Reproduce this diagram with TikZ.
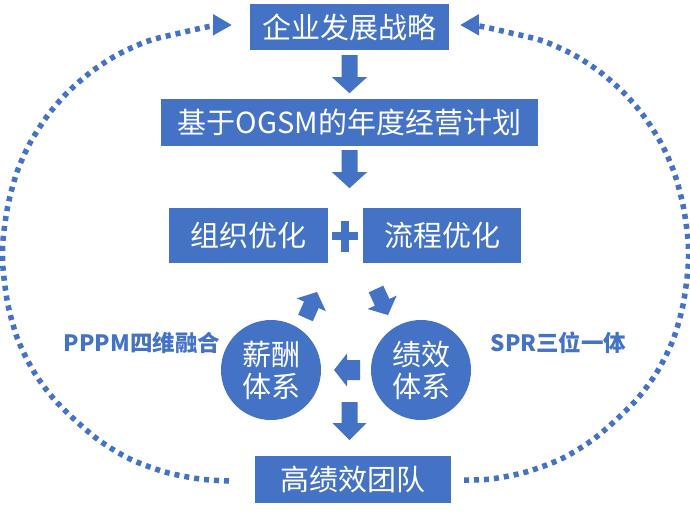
\documentclass[tikz,border=0pt]{standalone}
\usepackage{fontspec}
\setmainfont{Noto Sans CJK SC}
\usetikzlibrary{calc,arrows.meta}
\definecolor{ob}{HTML}{4472C4}
\newcommand\blockarr[5]{% tail, tip, shaft half-width, head half-width, head length
  \path ($(#2)!#5!(#1)$) coordinate (bah);
  \fill[ob] ($(#1)!#3!90:(#2)$) -- ($(bah)!#3!-90:(#1)$) -- ($(bah)!#4!-90:(#1)$) -- (#2)
    -- ($(bah)!#4!90:(#1)$) -- ($(bah)!#3!90:(#1)$) -- ($(#1)!#3!-90:(#2)$) -- cycle;
}
\tikzset{
  box/.style={fill=ob, text=white, inner sep=0pt, font=\fontsize{29}{32}\selectfont},
  circ/.style={circle, fill=ob, text=white, inner sep=0pt, minimum size=100pt, align=center,
    font=\fontsize{29}{32}\selectfont},
  lab/.style={text=ob, inner sep=0pt, font=\fontsize{22.5}{24}\selectfont\bfseries},
  dots/.style={draw=ob, line width=5.5pt, dash pattern=on 5pt off 5pt,
    -{Triangle[length=19pt 0 0,width=20pt 0 0]}},
}
\begin{document}
\begin{tikzpicture}[x=1pt,y=-1pt]
\useasboundingbox (0,0) rectangle (690,515);
% boxes
\node[box, minimum width=199pt, minimum height=46pt] (b1) at (349.5,27) {企业发展战略};
\node[box, minimum width=377pt, minimum height=47pt] (b2) at (349.5,122.5) {基于OGSM的年度经营计划};
\node[box, minimum width=159pt, minimum height=55pt] (b3) at (248.5,235.5) {组织优化};
\node[box, minimum width=158pt, minimum height=55pt] (b4) at (442,235.5) {流程优化};
\node[circ] (c1) at (271,370) {薪酬\\体系};
\node[circ] (c2) at (421,370) {绩效\\体系};
\node[box, minimum width=196pt, minimum height=47pt] (b6) at (353,479.5) {高绩效团队};
\node[lab] (l1) at (142,342.5) {PPPM四维融合};
\node[lab] (l2) at (558.5,342.5) {SPR三位一体};
% plus sign
\coordinate (plus) at (345,236);
\fill[ob] ($(plus)+(-13,-4)$) rectangle ($(plus)+(13,4)$);
\fill[ob] ($(plus)+(-4,-15.5)$) rectangle ($(plus)+(4,15.5)$);
% block arrows
\coordinate (a1t) at ($(b1.south)+(0,5)$);
\coordinate (a1p) at ($(b1.south)+(0,43)$);
\blockarr{a1t}{a1p}{8pt}{17.5pt}{16pt}
\coordinate (a2t) at ($(b2.south)+(0,4)$);
\coordinate (a2p) at ($(b2.south)+(0,42)$);
\blockarr{a2t}{a2p}{8pt}{17.5pt}{16pt}
\coordinate (a3t) at (360,370);
\coordinate (a3p) at (334,370);
\blockarr{a3t}{a3p}{10pt}{16.5pt}{13pt}
\coordinate (a4t) at (349.5,402);
\coordinate (a4p) at (349.5,440);
\blockarr{a4t}{a4p}{8pt}{17pt}{17pt}
\coordinate (a5t) at (305.5,318);
\coordinate (a5p) at (317,292);
\blockarr{a5t}{a5p}{8pt}{16pt}{14pt}
\coordinate (a6t) at (376,289);
\coordinate (a6p) at (388,315);
\blockarr{a6t}{a6p}{8pt}{16pt}{14pt}
% dotted loop
\draw[dots] plot[smooth] coordinates {(229,481) (200,479) (165,472) (130,459) (100,441) (75,420)
  (53,398) (34,372) (18,340) (8,305) (3,268) (3,240) (8,205) (17,172) (30,143) (48,115)
  (68,92) (91,72) (117,55) (148,41) (180,33) (212,26) (232,25)};
\draw[dots] plot[smooth] coordinates {(464,480) (491,479) (526,472) (561,459) (591,441) (616,420)
  (638,398) (657,372) (673,340) (683,305) (688,268) (688,240) (683,205) (674,172) (661,143) (643,115)
  (623,92) (600,72) (574,55) (543,41) (511,33) (479,26) (460,25)};
\end{tikzpicture}
\end{document}
